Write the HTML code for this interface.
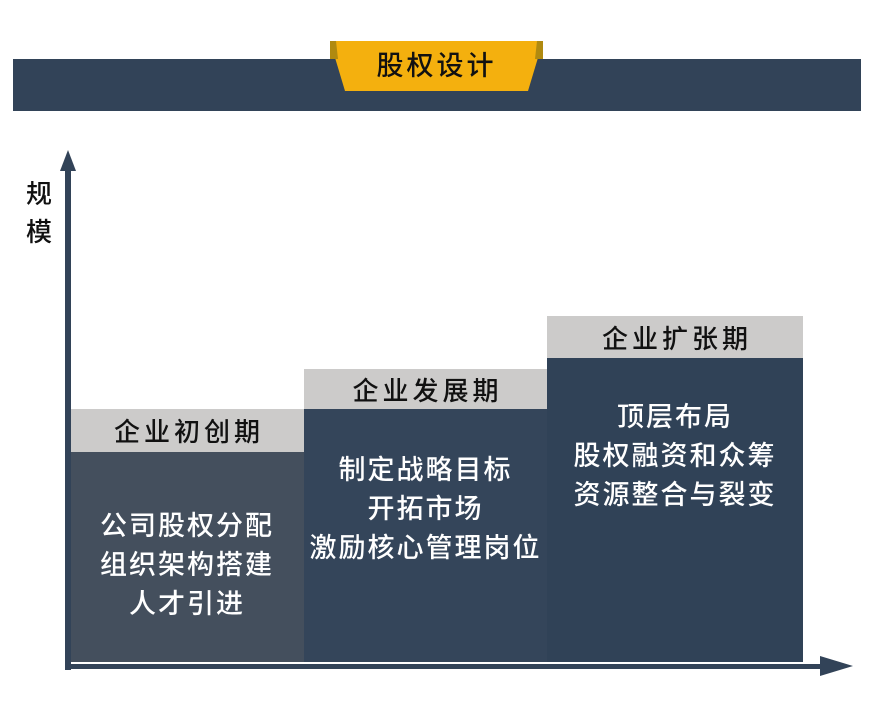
<!DOCTYPE html>
<html><head><meta charset="utf-8"><style>
body{margin:0;width:880px;height:724px;background:#fff;position:relative;overflow:hidden;font-family:"Liberation Sans","Noto Sans CJK SC",sans-serif}
div{position:absolute;box-sizing:border-box}
.h{background:#cccbca;color:#111;font-size:26px;letter-spacing:4px;text-align:center;display:flex;align-items:center;justify-content:center;padding-left:4px;font-weight:500}
.b{color:#fff;font-size:27px;letter-spacing:2px;text-align:center;line-height:39px;font-weight:500}
</style></head><body>
<div style="left:13px;top:59px;width:848px;height:52px;background:#324358"></div>
<div class="h" style="left:70px;top:409px;width:234px;height:43px">企业初创期</div>
<div style="left:70px;top:452px;width:234px;height:210px;background:#444f5d"></div>
<div class="b" style="left:70px;top:507px;width:234px">公司股权分配<br>组织架构搭建<br>人才引进</div>
<div class="h" style="left:304px;top:369px;width:243px;height:40px">企业发展期</div>
<div style="left:304px;top:409px;width:243px;height:253px;background:#34455a"></div>
<div class="b" style="left:304px;top:451px;width:243px">制定战略目标<br>开拓市场<br>激励核心管理岗位</div>
<div class="h" style="left:547px;top:316px;width:256px;height:42px">企业扩张期</div>
<div style="left:547px;top:358px;width:256px;height:304px;background:#304257"></div>
<div class="b" style="left:547px;top:398px;width:256px">顶层布局<br>股权融资和众筹<br>资源整合与裂变</div>
<svg style="position:absolute;left:0;top:0" width="880" height="724">
<path d="M330 41 H543 L528 91 H345 Z" fill="#f4b00e"/>
<path d="M330 41 H336 L338 59 H330 Z M537 41 H543 V59 H535 Z" fill="#b08a10"/>
<rect x="65" y="168" width="6" height="502" fill="#324358"/>
<path d="M68 150 L76 171 H60 Z" fill="#324358"/>
<rect x="65" y="664" width="770" height="5" fill="#324358"/>
<path d="M853 666 L820 656 V676 Z" fill="#324358"/>
</svg>
<div style="left:330px;top:44px;width:213px;height:44px;font-size:27px;letter-spacing:3px;text-align:center;line-height:44px;color:#111;font-weight:500">股权设计</div>
<div style="left:26px;top:175px;font-size:26px;line-height:38px;color:#111;font-weight:500">规<br>模</div>
</body></html>
